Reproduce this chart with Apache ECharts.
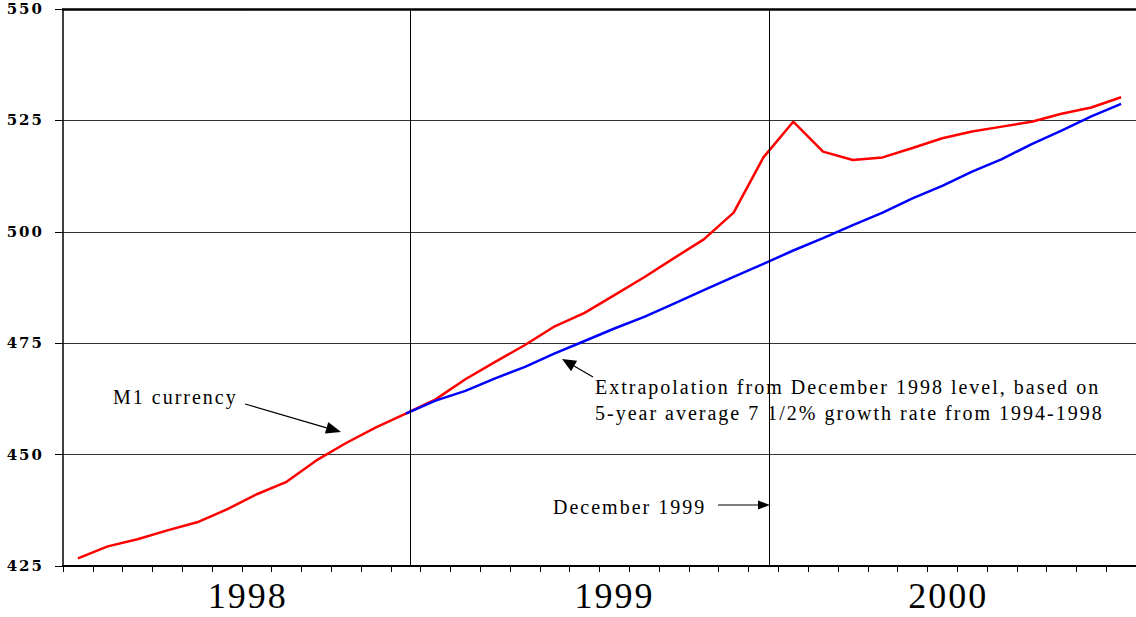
<!DOCTYPE html>
<html>
<head>
<meta charset="utf-8">
<script src="https://cdn.jsdelivr.net/npm/echarts@6/dist/echarts.min.js"></script>
<style>
  html, body { margin: 0; padding: 0; background: #fff; }
  #chart { width: 1136px; height: 617px; }
  #chart text { letter-spacing: 2px; }
</style>
</head>
<body>
<div id="chart"></div>
<script>
// ---- data ----
const months = [
  'Jan 1998','Feb 1998','Mar 1998','Apr 1998','May 1998','Jun 1998','Jul 1998','Aug 1998','Sep 1998','Oct 1998','Nov 1998','Dec 1998',
  'Jan 1999','Feb 1999','Mar 1999','Apr 1999','May 1999','Jun 1999','Jul 1999','Aug 1999','Sep 1999','Oct 1999','Nov 1999','Dec 1999',
  'Jan 2000','Feb 2000','Mar 2000','Apr 2000','May 2000','Jun 2000','Jul 2000','Aug 2000','Sep 2000','Oct 2000','Nov 2000','Dec 2000'
];
const m1Currency = [
  426.7, 429.4, 431.0, 433.0, 434.8, 437.7, 441.1, 443.9, 448.7, 452.6, 456.1, 459.2,
  462.4, 466.9, 470.8, 474.6, 478.8, 481.8, 485.8, 489.8, 494.1, 498.3, 504.3, 516.7,
  524.7, 518.0, 516.1, 516.7, 518.8, 521.0, 522.5, 523.6, 524.7, 526.5, 527.9, 530.2
];
const extrapolation = [
  null, null, null, null, null, null, null, null, null, null, null, 459.2,
  462.1, 464.3, 467.1, 469.7, 472.7, 475.5, 478.3, 480.9, 483.9, 486.9, 489.9, 492.8,
  495.8, 498.6, 501.5, 504.3, 507.5, 510.3, 513.5, 516.3, 519.7, 522.7, 525.9, 528.7
];
const yearLabels = ['1998', '1999', '2000'];
const yTicks = [425, 450, 475, 500, 525, 550];
const markerLines = [11.66, 23.7]; // December 1998 level, December 1999

// ---- helpers ----
function toPoints(arr) {
  return arr.map((v, i) => [i + 0.5, v]);
}
function arrow(x1, y1, x2, y2, len, half) {
  const dx = x2 - x1, dy = y2 - y1;
  const d = Math.sqrt(dx * dx + dy * dy);
  const ux = dx / d, uy = dy / d;
  const bx = x2 - ux * len, by = y2 - uy * len;
  return [
    { type: 'line', shape: { x1: x1, y1: y1, x2: bx, y2: by }, style: { stroke: '#000', lineWidth: 1.2 } },
    { type: 'polygon', shape: { points: [[x2, y2], [bx - uy * half, by + ux * half], [bx + uy * half, by - ux * half]] }, style: { fill: '#000' } }
  ];
}

const serif = '"Liberation Serif", "Times New Roman", serif';
const annFont = '20px ' + serif;

const chart = echarts.init(document.getElementById('chart'), null, { renderer: 'svg' });

chart.setOption({
  animation: false,
  backgroundColor: '#ffffff',
  grid: { left: 63, top: 9, width: 1075, height: 557, containLabel: false },
  xAxis: [
    {
      type: 'value', min: 0, max: 36, interval: 1,
      axisLine: { show: true, onZero: false, lineStyle: { color: '#000', width: 2 } },
      axisTick: { show: true, length: 6, lineStyle: { color: '#000', width: 1 } },
      axisLabel: { show: false },
      splitLine: { show: false }
    },
    {
      type: 'value', min: 0, max: 36, position: 'bottom',
      axisLine: { show: false },
      axisTick: { show: false },
      splitLine: { show: false },
      axisLabel: {
        show: true,
        customValues: [6.2, 18.5, 29.7],
        formatter: function (v) { return yearLabels[Math.floor(v / 12)]; },
        fontFamily: serif, fontSize: 36, color: '#000', margin: 12
      }
    },
    {
      type: 'value', min: 0, max: 36, position: 'top',
      axisLine: { show: true, lineStyle: { color: '#000', width: 2.5 } },
      axisTick: { show: false }, axisLabel: { show: false }, splitLine: { show: false }
    }
  ],
  yAxis: {
    type: 'value', min: yTicks[0], max: yTicks[yTicks.length - 1], interval: 25,
    axisLine: { show: true, lineStyle: { color: '#000', width: 1.5 } },
    axisTick: { show: true, inside: false, length: 8, lineStyle: { color: '#000', width: 1 } },
    axisLabel: {
      fontFamily: '"DejaVu Serif", serif', fontWeight: 'bold', fontSize: 15, color: '#000', margin: 19
    },
    splitLine: { show: true, lineStyle: { color: '#333', width: 1 } }
  },
  series: [
    {
      name: 'M1 currency', type: 'line', xAxisIndex: 0,
      data: toPoints(m1Currency),
      showSymbol: false, symbol: 'none',
      lineStyle: { color: '#ff0000', width: 2.5 },
      z: 3,
      markLine: {
        silent: true, symbol: 'none',
        label: { show: false },
        lineStyle: { color: '#000', width: 1, type: 'solid' },
        data: markerLines.map(v => ({ xAxis: v }))
      }
    },
    {
      name: 'Extrapolation', type: 'line', xAxisIndex: 0,
      data: toPoints(extrapolation),
      showSymbol: false, symbol: 'none',
      lineStyle: { color: '#0000ff', width: 2.5 },
      z: 4
    }
  ],
  graphic: [
    { type: 'text', x: 113, y: 397, style: { text: 'M1 currency', font: annFont, fill: '#000', verticalAlign: 'middle', align: 'left' } },
    ...arrow(245, 404, 341, 432, 15, 6),
    { type: 'text', x: 595, y: 387, style: { text: 'Extrapolation from December 1998 level, based on', font: annFont, fill: '#000', verticalAlign: 'middle', align: 'left' } },
    { type: 'text', x: 595, y: 413, style: { text: '5-year average 7 1/2% growth rate from 1994-1998', font: annFont, fill: '#000', verticalAlign: 'middle', align: 'left' } },
    ...arrow(593, 377, 562, 359, 14, 6),
    { type: 'text', x: 553, y: 507, style: { text: 'December 1999', font: annFont, fill: '#000', verticalAlign: 'middle', align: 'left' } },
    ...arrow(718, 505, 770, 505, 12, 4.5)
  ]
});
</script>
</body>
</html>
